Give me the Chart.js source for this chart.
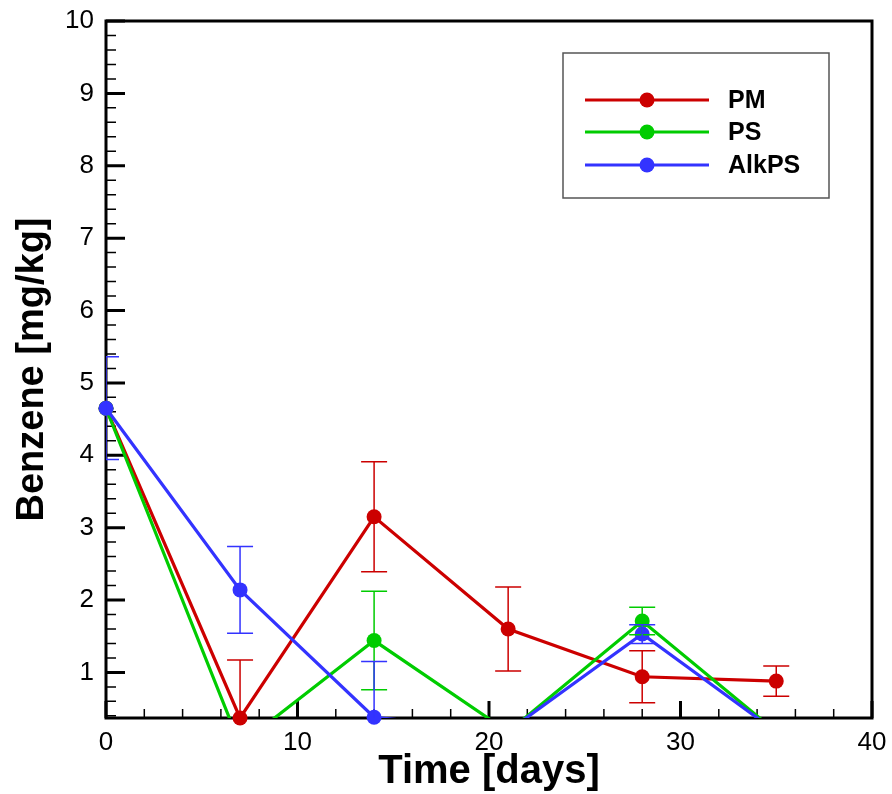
<!DOCTYPE html>
<html>
<head>
<meta charset="utf-8">
<script src="https://cdn.jsdelivr.net/npm/chart.js@4.4.1/dist/chart.umd.min.js"></script>
<style>
  html, body { margin: 0; padding: 0; background: #fff; }
  #wrap { width: 892px; height: 794px; }
</style>
</head>
<body>
<div id="wrap"><canvas id="chart"></canvas></div>
<script>
// data
const days = [0, 7, 14, 21, 28, 35];
const seriesNames = ['PM', 'PS', 'AlkPS'];
const pmVals  = [4.65, 0.37, 3.15, 1.60, 0.94, 0.88];
const pmErr   = [null, 0.80, 0.76, 0.58, 0.36, 0.21];
const psVals  = [4.65, 0.00, 1.44, 0.18, 1.71, 0.18];
const psErr   = [null, null, 0.68, null, 0.19, null];
const alkVals = [4.65, 2.14, 0.38, 0.19, 1.53, 0.18];
const alkErr  = [0.71, 0.60, 0.77, null, 0.13, null];
const xTicks = [0, 10, 20, 30, 40];
const yTicks = [1, 2, 3, 4, 5, 6, 7, 8, 9, 10];
const yMin = 0.37, yMax = 10;

const COLORS = ['#cc0000', '#00cc00', '#3333ff'];
const FONT = 'Arial, "Liberation Sans", Helvetica, sans-serif';
const allVals = [pmVals, psVals, alkVals];
const allErr = [pmErr, psErr, alkErr];

// each series: a clipped line, then its symbols (symbols not clipped, like the original)
const datasets = [];
allVals.forEach((vals, s) => {
    datasets.push({
        label: seriesNames[s],
        data: days.map((d, i) => ({x: d, y: vals[i]})),
        borderColor: COLORS[s], borderWidth: 3.2, pointRadius: 0,
        fill: false, tension: 0, clip: 0,
        order: 5 - s * 2
    });
    datasets.push({
        label: seriesNames[s] + ' pts',
        data: days.map((d, i) => ({x: d, y: vals[i] >= yMin - 0.05 ? vals[i] : null})),
        showLine: false, pointRadius: 7.5, pointBackgroundColor: COLORS[s],
        pointBorderColor: COLORS[s], pointBorderWidth: 0, clip: false,
        order: 4 - s * 2
    });
});

const framePlugin = {
    id: 'frame',
    beforeDatasetsDraw(chart) {
        const {ctx, chartArea: a, scales: {x, y}} = chart;
        ctx.save();
        ctx.strokeStyle = '#000';
        // minor ticks
        ctx.lineWidth = 1.5;
        ctx.beginPath();
        for (let k = 2; k < 50; k++) {
            if (k % 5 === 0) continue;
            const py = y.getPixelForValue(k * 0.2);
            ctx.moveTo(a.left, py); ctx.lineTo(a.left + 10, py);
        }
        for (let v = 2; v < 40; v += 2) {
            if (v % 10 === 0) continue;
            const px = x.getPixelForValue(v);
            ctx.moveTo(px, a.bottom); ctx.lineTo(px, a.bottom - 9);
        }
        ctx.stroke();
        // major ticks
        ctx.lineWidth = 3;
        ctx.beginPath();
        yTicks.forEach(v => {
            const py = y.getPixelForValue(v);
            ctx.moveTo(a.left, py); ctx.lineTo(a.left + 19, py);
        });
        xTicks.forEach(v => {
            const px = x.getPixelForValue(v);
            ctx.moveTo(px, a.bottom); ctx.lineTo(px, a.bottom - 17);
        });
        ctx.stroke();
        ctx.strokeRect(a.left, a.top, a.right - a.left, a.bottom - a.top);
        ctx.restore();
    },
    afterDatasetsDraw(chart) {
        const {ctx, chartArea: a, scales: {x, y}} = chart;
        ctx.save();
        ctx.beginPath();
        ctx.rect(a.left, a.top, a.right - a.left, a.bottom - a.top);
        ctx.clip();
        ctx.lineWidth = 1.5;
        allVals.forEach((vals, s) => {
            ctx.strokeStyle = COLORS[s];
            allErr[s].forEach((e, i) => {
                if (e == null) return;
                const px = x.getPixelForValue(days[i]);
                const hi = y.getPixelForValue(vals[i] + e);
                const lo = y.getPixelForValue(vals[i] - e);
                ctx.beginPath();
                ctx.moveTo(px, hi); ctx.lineTo(px, lo);
                ctx.moveTo(px - 13, hi); ctx.lineTo(px + 13, hi);
                ctx.moveTo(px - 13, lo); ctx.lineTo(px + 13, lo);
                ctx.stroke();
            });
        });
        ctx.restore();
    },
    afterDraw(chart) {
        const ctx = chart.ctx;
        ctx.save();
        ctx.strokeStyle = '#555';
        ctx.lineWidth = 1.5;
        ctx.strokeRect(563, 53, 266, 145);
        const rows = [100, 132, 165];
        seriesNames.forEach((name, s) => {
            ctx.strokeStyle = COLORS[s];
            ctx.fillStyle = COLORS[s];
            ctx.lineWidth = 3.2;
            ctx.beginPath();
            ctx.moveTo(585, rows[s]); ctx.lineTo(709, rows[s]);
            ctx.stroke();
            ctx.beginPath();
            ctx.arc(647, rows[s], 7.5, 0, Math.PI * 2);
            ctx.fill();
            ctx.fillStyle = '#000';
            ctx.font = 'bold 25px ' + FONT;
            ctx.textBaseline = 'middle';
            ctx.fillText(name, 728, rows[s] + 1);
        });
        ctx.restore();
    }
};

new Chart(document.getElementById('chart'), {
    type: 'line',
    data: {datasets},
    options: {
        responsive: true,
        maintainAspectRatio: false,
        animation: false,
        events: [],
        layout: {padding: {top: 21, right: 20, left: 0, bottom: 0}},
        plugins: {legend: {display: false}, tooltip: {enabled: false}},
        scales: {
            x: {
                type: 'linear', min: 0, max: 40,
                afterBuildTicks: s => { s.ticks = xTicks.map(v => ({value: v})); },
                afterFit: s => { s.height = 76; s.paddingLeft = 0; s.paddingRight = 0; },
                grid: {display: false, drawTicks: false},
                border: {display: false},
                ticks: {color: '#000', font: {family: FONT, size: 26}, padding: 9, maxRotation: 0},
                title: {display: true, text: 'Time [days]', color: '#000',
                        font: {family: FONT, size: 40, weight: 'bold'}, padding: {top: 0, bottom: -2}}
            },
            y: {
                type: 'linear', min: yMin, max: yMax,
                afterBuildTicks: s => { s.ticks = yTicks.map(v => ({value: v})); },
                afterFit: s => { s.width = 106; s.paddingTop = 0; s.paddingBottom = 0; },
                grid: {display: false, drawTicks: false},
                border: {display: false},
                ticks: {color: '#000', font: {family: FONT, size: 26}, padding: 12},
                title: {display: true, text: 'Benzene [mg/kg]', color: '#000',
                        font: {family: FONT, size: 38, weight: 'bold'}, padding: {top: 10, bottom: 0}}
            }
        }
    },
    plugins: [framePlugin]
});
</script>
</body>
</html>
